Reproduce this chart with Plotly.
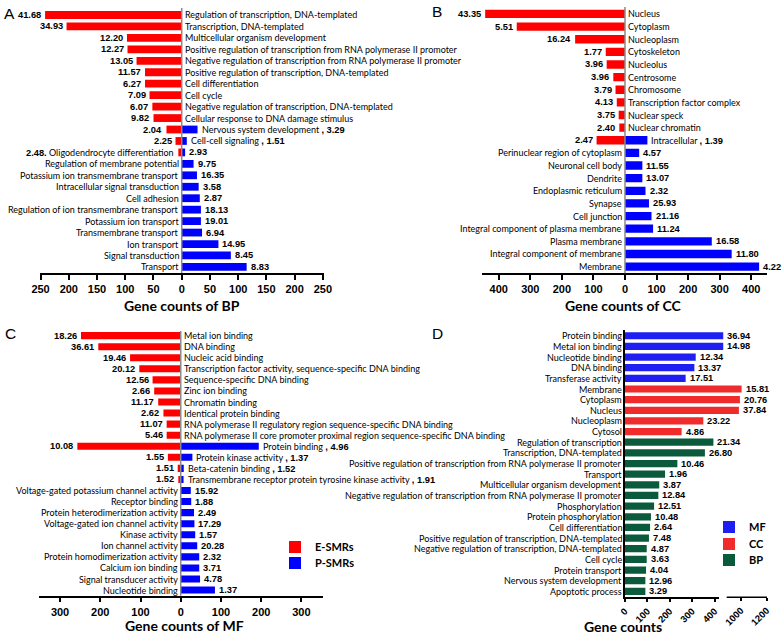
import plotly.graph_objects as go

W, H = 781, 636

# ---------------- data ----------------
# Panel A: Biological process
bp_terms = ["Regulation of transcription, DNA-templated", "Transcription, DNA-templated",
            "Multicellular organism development",
            "Positive regulation of transcription from RNA polymerase II promoter",
            "Negative regulation of transcription from RNA polymerase II promoter",
            "Positive regulation of transcription, DNA-templated", "Cell differentiation", "Cell cycle",
            "Negative regulation of transcription, DNA-templated", "Cellular response to DNA damage stimulus",
            "Nervous system development", "Cell-cell signaling", "Oligodendrocyte differentiation",
            "Regulation of membrane potential", "Potassium ion transmembrane transport",
            "Intracellular signal transduction", "Cell adhesion", "Regulation of ion transmembrane transport",
            "Potassium ion transport", "Transmembrane transport", "Ion transport", "Signal transduction",
            "Transport"]
bp_e_counts = [242, 204, 97, 96, 80, 65, 65, 57, 52, 50, 27, 11, 6] + [None] * 10
bp_e_pct = [41.68, 34.93, 12.20, 12.27, 13.05, 11.57, 6.27, 7.09, 6.07, 9.82, 2.04, 2.25, 2.48] + [None] * 10
bp_p_counts = [None] * 10 + [28, 9, 6, 21, 27, 30, 32, 34, 34, 36, 65, 87, 115]
bp_p_pct = [None] * 10 + [3.29, 1.51, 2.93, 9.75, 16.35, 3.58, 2.87, 18.13, 19.01, 6.94, 14.95, 8.45, 8.83]

# Panel B: Cellular component
cc_terms = ["Nucleus", "Cytoplasm", "Nucleoplasm", "Cytoskeleton", "Nucleolus", "Centrosome", "Chromosome",
            "Transcription factor complex", "Nuclear speck", "Nuclear chromatin", "Intracellular",
            "Perinuclear region of cytoplasm", "Neuronal cell body", "Dendrite", "Endoplasmic reticulum",
            "Synapse", "Cell junction", "Integral component of plasma membrane", "Plasma membrane",
            "Integral component of membrane", "Membrane"]
cc_e_counts = [443, 343, 158, 61, 58, 37, 30, 26, 20, 18, 90] + [None] * 10
cc_e_pct = [43.35, 5.51, 16.24, 1.77, 3.96, 3.96, 3.79, 4.13, 3.75, 2.40, 2.47] + [None] * 10
cc_p_counts = [None] * 10 + [71, 45, 55, 55, 65, 76, 84, 89, 275, 338, 425]
cc_p_pct = [None] * 10 + [1.39, 4.57, 11.55, 13.07, 2.32, 25.93, 21.16, 11.24, 16.58, 11.80, 4.22]

# Panel C: Molecular function
mf_terms = ["Metal ion binding", "DNA binding", "Nucleic acid binding",
            "Transcription factor activity, sequence-specific DNA binding", "Sequence-specific DNA binding",
            "Zinc ion binding", "Chromatin binding", "Identical protein binding",
            "RNA polymerase II regulatory region sequence-specific DNA binding",
            "RNA polymerase II core promoter proximal region sequence-specific DNA binding",
            "Protein binding", "Protein kinase activity", "Beta-catenin binding",
            "Transmembrane receptor protein tyrosine kinase activity",
            "Voltage-gated potassium channel activity", "Receptor binding",
            "Protein heterodimerization activity", "Voltage-gated ion channel activity", "Kinase activity",
            "Ion channel activity", "Protein homodimerization activity", "Calcium ion binding",
            "Signal transducer activity", "Nucleotide binding"]
mf_e_counts = [248, 205, 126, 103, 70, 66, 56, 43, 35, 35, 257, 32, 7.5, 6] + [None] * 10
mf_e_pct = [18.26, 36.61, 19.46, 20.12, 12.56, 2.66, 11.17, 2.62, 11.07, 5.46, 10.08, 1.55, 1.51, 1.52] + [None] * 10
mf_p_counts = [None] * 10 + [194, 29, 7.5, 7, 25, 26, 33, 34, 36, 41, 46, 46, 48, 85]
mf_p_pct = [None] * 10 + [4.96, 1.37, 1.52, 1.91, 15.92, 1.88, 2.49, 17.29, 1.57, 20.28, 2.32, 3.71, 4.78, 1.37]

# Panel D: all genes
all_terms = ["Protein binding", "Metal ion binding", "Nucleotide binding", "DNA binding", "Transferase activity",
             "Membrane", "Cytoplasm", "Nucleus", "Nucleoplasm", "Cytosol",
             "Regulation of transcription", "Transcription, DNA-templated",
             "Positive regulation of transcription from RNA polymerase II promoter", "Transport",
             "Multicellular organism development",
             "Negative regulation of transcription from RNA polymerase II promoter", "Phosphorylation",
             "Protein phosphorylation", "Cell differentiation",
             "Positive regulation of transcription, DNA-templated",
             "Negative regulation of transcription, DNA-templated", "Cell cycle", "Protein transport",
             "Nervous system development", "Apoptotic process"]
all_groups = ["MF"] * 5 + ["CC"] * 5 + ["BP"] * 15
all_counts = [862, 862, 316, 310, 271, 1005, 992, 984, 350, 253, 395, 357, 234, 179, 153, 149, 130, 116,
              112, 107, 97, 97, 94, 91, 91]
all_pct = [36.94, 14.98, 12.34, 13.37, 17.51, 15.81, 20.76, 37.84, 23.22, 4.86, 21.34, 26.80, 10.46, 1.96,
           3.87, 12.84, 12.51, 10.48, 2.64, 7.48, 4.87, 3.63, 4.04, 12.96, 3.29]

left_label_terms = {"Oligodendrocyte differentiation"}

# ---------------- styling ----------------
RED, BLUE = "#ff0000", "#0000ff"
D_COLORS = {"MF": "#1f1ff2", "CC": "#f02b2b", "BP": "#0b5a3b"}
LBL = "Lato"
NUMF = "Liberation Sans, Arial"
LBL_SIZE = 9
NUM_SIZE = 9.3


def xdom(a, b):
    return [a / W, b / W]


def ydom(top, bottom):
    return [1 - bottom / H, 1 - top / H]


def num_span(s):
    return f'<span style="font-family:Liberation Sans;font-size:{NUM_SIZE}px"><b>{s}</b></span>'


def paper_text(x, y, text, size, family=LBL, anchor="center"):
    return dict(x=x / W, y=1 - y / H, xref="paper", yref="paper", text=text, showarrow=False,
                xanchor=anchor, yanchor="middle", font=dict(family=family, size=size, color="black"))


fig = go.Figure()
annotations = []
shapes = []

panels = [
    dict(letter="A", terms=bp_terms, e=bp_e_counts, ep=bp_e_pct, p=bp_p_counts, pp=bp_p_pct,
         xa="x", ya="y", xd=(40, 324), xr=[-251, 252], yd=(8, 273), yr=[22.53, -0.61], bw=0.68,
         tick_step=50, tick_max=250, title="Gene counts of BP", title_pos=(182, 305), letter_pos=(2, 13)),
    dict(letter="B", terms=cc_terms, e=cc_e_counts, ep=cc_e_pct, p=cc_p_counts, pp=cc_p_pct,
         xa="x2", ya="y2", xd=(481.7, 766.7), xr=[-454, 449], yd=(7, 273.3), yr=[20.53, -0.55], bw=0.66,
         tick_step=100, tick_max=400, title="Gene counts of CC", title_pos=(623, 305), letter_pos=(430, 12)),
    dict(letter="C", terms=mf_terms, e=mf_e_counts, ep=mf_e_pct, p=mf_p_counts, pp=mf_p_pct,
         xa="x3", ya="y3", xd=(39.3, 322.7), xr=[-351.6, 352.9], yd=(331, 595.7), yr=[23.51, -0.42], bw=0.64,
         tick_step=100, tick_max=300, title="Gene counts of MF", title_pos=(184, 625), letter_pos=(3, 333)),
]

for k, P in enumerate(panels):
    n = len(P["terms"])
    rows = list(range(n))
    is_c = P["letter"] == "C"
    fig.add_trace(go.Bar(
        x=[-v if v is not None else None for v in P["e"]], y=rows, orientation="h",
        marker=dict(color=RED, line=dict(width=0)), width=P["bw"], xaxis=P["xa"], yaxis=P["ya"],
        name="E-SMRs", showlegend=is_c, legend="legend", hoverinfo="skip"))
    fig.add_trace(go.Bar(
        x=P["p"], y=rows, orientation="h",
        marker=dict(color=BLUE, line=dict(width=0)), width=P["bw"], xaxis=P["xa"], yaxis=P["ya"],
        name="P-SMRs", showlegend=is_c, legend="legend2", hoverinfo="skip"))

    for i, term in enumerate(P["terms"]):
        has_e = P["e"][i] is not None
        has_p = P["p"][i] is not None
        if has_e:
            if term in left_label_terms:
                txt = num_span(f"{P['ep'][i]:.2f}.") + " " + term
                fnt = dict(family=LBL, size=LBL_SIZE, color="black")
            else:
                txt = f"<b>{P['ep'][i]:.2f}</b>"
                fnt = dict(family=NUMF, size=NUM_SIZE, color="black")
            annotations.append(dict(x=-P["e"][i], y=i, xref=P["xa"], yref=P["ya"], text=txt, showarrow=False,
                                    xanchor="right", yanchor="middle", xshift=-2, font=fnt))
        if has_p:
            if has_e and term not in left_label_terms:
                txt = term + " " + num_span(f", {P['pp'][i]:.2f}")
                fnt = dict(family=LBL, size=LBL_SIZE, color="black")
            else:
                txt = f"<b>{P['pp'][i]:.2f}</b>"
                fnt = dict(family=NUMF, size=NUM_SIZE, color="black")
            annotations.append(dict(x=P["p"][i], y=i, xref=P["xa"], yref=P["ya"], text=txt, showarrow=False,
                                    xanchor="left", yanchor="middle", xshift=2, font=fnt))
        if has_e and not has_p:
            annotations.append(dict(x=0, y=i, xref=P["xa"], yref=P["ya"], text=term, showarrow=False,
                                    xanchor="left", yanchor="middle", xshift=1,
                                    font=dict(family=LBL, size=LBL_SIZE, color="black")))
        if has_p and not has_e:
            annotations.append(dict(x=0, y=i, xref=P["xa"], yref=P["ya"], text=term, showarrow=False,
                                    xanchor="right", yanchor="middle", xshift=-1,
                                    font=dict(family=LBL, size=LBL_SIZE, color="black")))

    tv = list(range(-P["tick_max"], P["tick_max"] + 1, P["tick_step"]))
    axis_key = "xaxis" + P["xa"][1:]
    yaxis_key = "yaxis" + P["ya"][1:]
    fig.update_layout(**{
        axis_key: dict(domain=xdom(*P["xd"]), range=P["xr"], anchor=P["ya"], showgrid=False, zeroline=False,
                       automargin=False, showline=True, linecolor="black", linewidth=1.5, ticks="outside",
                       ticklen=5, tickwidth=1.5, tickcolor="black", tickvals=tv,
                       ticktext=[str(abs(v)) for v in tv],
                       tickfont=dict(family=NUMF, size=11, color="black", weight="bold")),
        yaxis_key: dict(domain=ydom(*P["yd"]), range=P["yr"], anchor=P["xa"], showgrid=False, zeroline=False,
                        automargin=False, showline=False, showticklabels=False, ticks=""),
    })
    shapes.append(dict(type="line", xref=P["xa"], yref=P["ya"] + " domain", x0=0, x1=0, y0=0, y1=1,
                       line=dict(color="#8a8a8a", width=1.5), layer="above"))
    annotations.append(paper_text(P["title_pos"][0], P["title_pos"][1], f"<b>{P['title']}</b>", 14))
    annotations.append(paper_text(P["letter_pos"][0], P["letter_pos"][1], P["letter"], 15.5,
                                  family="Liberation Sans, Arial", anchor="left"))

# ---------------- Panel D (broken axis) ----------------
BREAK_LOW = 420
nD = len(all_terms)
rowsD = list(range(nD))
legend_of = {"MF": "legend3", "CC": "legend4", "BP": "legend5"}
for grp in ["MF", "CC", "BP"]:
    xs = [c if g == grp else None for c, g in zip(all_counts, all_groups)]
    for xa, show in (("x4", True), ("x5", False)):
        fig.add_trace(go.Bar(x=xs, y=rowsD, orientation="h", width=0.68,
                             marker=dict(color=D_COLORS[grp], line=dict(width=0)),
                             xaxis=xa, yaxis="y4", name=grp, showlegend=show, legend=legend_of[grp],
                             hoverinfo="skip"))

for i, term in enumerate(all_terms):
    annotations.append(dict(x=0, y=i, xref="x4", yref="y4", text=term, showarrow=False, xanchor="right",
                            yanchor="middle", xshift=-1, font=dict(family=LBL, size=LBL_SIZE, color="black")))
    xa = "x4" if all_counts[i] <= BREAK_LOW else "x5"
    annotations.append(dict(x=all_counts[i], y=i, xref=xa, yref="y4", text=f"<b>{all_pct[i]:.2f}</b>",
                            showarrow=False, xanchor="left", yanchor="middle", xshift=2,
                            font=dict(family=NUMF, size=NUM_SIZE, color="black")))

tickfontD = dict(family=NUMF, size=9.5, color="black", weight="bold")
fig.update_layout(
    xaxis4=dict(domain=xdom(625, 719), range=[0, BREAK_LOW], anchor="y4", showgrid=False, zeroline=False,
                automargin=False, showline=True, linecolor="black", linewidth=1.5, ticks="outside", ticklen=3,
                tickwidth=1.5, tickcolor="black", tickvals=[0, 100, 200, 300, 400], tickangle=-45,
                tickfont=tickfontD),
    xaxis5=dict(domain=xdom(719, 767), range=[829, 1203], anchor="y4", showgrid=False, zeroline=False,
                automargin=False, showline=False, ticks="outside", ticklen=3, tickwidth=1.5, tickcolor="black",
                tickvals=[1000, 1200], tickangle=-45, tickfont=tickfontD),
    yaxis4=dict(domain=ydom(330, 597.3), range=[24.56, -0.54], anchor="x4", showgrid=False, zeroline=False,
                automargin=False, showline=True, linecolor="black", linewidth=1.5, showticklabels=False,
                ticks=""),
)
shapes.append(dict(type="line", xref="x5 domain", yref="y4 domain", x0=0.16, x1=1, y0=0, y1=0,
                   line=dict(color="black", width=1.5)))
annotations.append(paper_text(623, 626, "<b>Gene counts</b>", 14))
annotations.append(paper_text(430, 333, "D", 15.5, family="Liberation Sans, Arial", anchor="left"))

legend_style = dict(xanchor="left", yanchor="middle", bgcolor="rgba(0,0,0,0)",
                    font=dict(family=LBL, size=11, color="black", weight="bold"), itemwidth=30)
fig.update_layout(
    width=W, height=H, margin=dict(l=0, r=0, t=0, b=0), paper_bgcolor="white", plot_bgcolor="white",
    barmode="overlay", annotations=annotations, shapes=shapes,
    legend=dict(x=275 / W, y=1 - 547 / H, **legend_style),
    legend2=dict(x=275 / W, y=1 - 563 / H, **legend_style),
    legend3=dict(x=709 / W, y=1 - 527 / H, **legend_style),
    legend4=dict(x=709 / W, y=1 - 544 / H, **legend_style),
    legend5=dict(x=709 / W, y=1 - 560 / H, **legend_style),
)

fig.write_html("out.html", config={"displayModeBar": False},
               post_script="document.body.style.margin='0px';")
